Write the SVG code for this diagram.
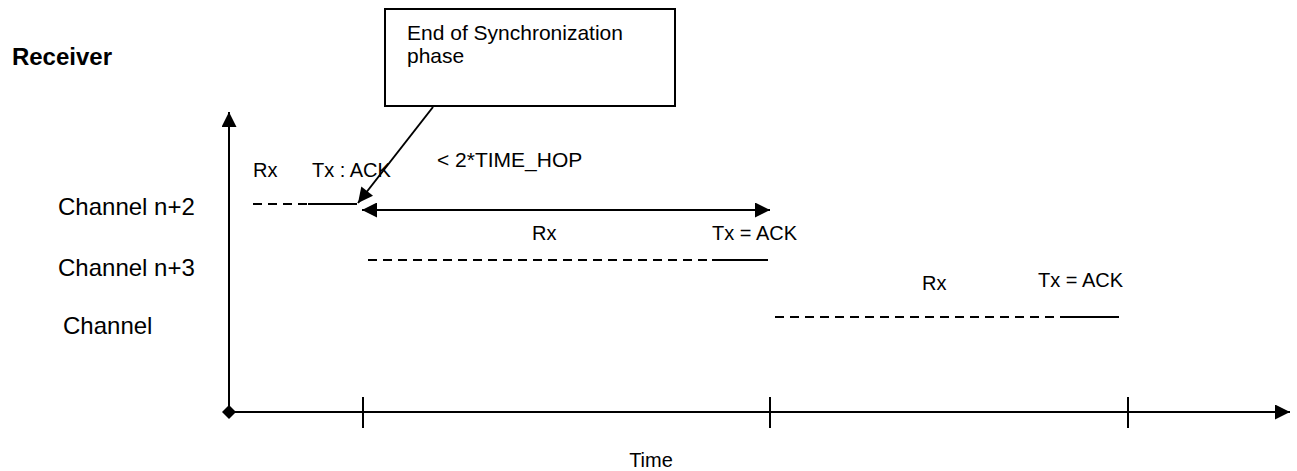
<svg xmlns="http://www.w3.org/2000/svg" width="1297" height="471" viewBox="0 0 1297 471">
<defs>
<style>
text{font-family:"Liberation Sans",Arial,sans-serif;fill:#000}
.lbl{font-size:20px}
.ch{font-size:24px}
.ln{stroke:#000;stroke-width:2;fill:none}
.dash{stroke:#000;stroke-width:2;stroke-dasharray:9,6;fill:none}
</style>
<marker id="ah" viewBox="0 0 10 10" refX="10" refY="5" markerWidth="17" markerHeight="15" markerUnits="userSpaceOnUse" orient="auto-start-reverse">
<path d="M0,0 L10,5 L0,10 Z" fill="#000"/>
</marker>
</defs>
<rect width="1297" height="471" fill="#fff"/>
<g id="receiver-title"><text x="112" y="65" font-size="24" font-weight="bold" text-anchor="end">Receiver</text></g>
<g id="sync-box">
<rect x="385" y="9" width="290" height="97" fill="#fff" stroke="#000" stroke-width="2"/>
<text x="407" y="40" font-size="21">End of Synchronization</text>
<text x="407" y="63" font-size="21">phase</text>
</g>
<g id="channel-labels">
<text class="ch" x="58" y="215">Channel n+2</text>
<text class="ch" x="58" y="276">Channel n+3</text>
<text class="ch" x="63" y="334">Channel</text>
</g>
<g id="axes">
<line class="ln" x1="229" y1="412" x2="229" y2="112" marker-end="url(#ah)"/>
<line class="ln" x1="229" y1="412" x2="1290" y2="412" marker-end="url(#ah)"/>
<path d="M229,405 L236,412 L229,419 L222,412 Z" fill="#000"/>
<line class="ln" x1="363" y1="397" x2="363" y2="428"/>
<line class="ln" x1="770" y1="397" x2="770" y2="428"/>
<line class="ln" x1="1128" y1="397" x2="1128" y2="428"/>
<text x="651" y="467" font-size="20" text-anchor="middle">Time</text>
</g>
<g id="slot1">
<text class="lbl" x="253" y="177">Rx</text>
<text class="lbl" x="312" y="177">Tx : ACK</text>
<line class="dash" x1="253" y1="204" x2="308" y2="204"/>
<line class="ln" x1="308" y1="204" x2="357" y2="204"/>
</g>
<g id="slot2">
<text class="lbl" x="532" y="240">Rx</text>
<text class="lbl" x="712" y="240">Tx = ACK</text>
<line class="dash" x1="368" y1="260" x2="712" y2="260"/>
<line class="ln" x1="712" y1="260" x2="768" y2="260"/>
</g>
<g id="slot3">
<text class="lbl" x="922" y="290">Rx</text>
<text class="lbl" x="1038" y="287">Tx = ACK</text>
<line class="dash" x1="775" y1="317" x2="1067" y2="317"/>
<line class="ln" x1="1067" y1="317" x2="1119" y2="317"/>
</g>
<g id="connectors">
<line class="ln" x1="433" y1="107" x2="358" y2="203" marker-end="url(#ah)"/>
<line class="ln" x1="362" y1="210" x2="770" y2="210" marker-start="url(#ah)" marker-end="url(#ah)"/>
<text x="437" y="167" font-size="21">&lt; 2*TIME_HOP</text>
</g>
</svg>
